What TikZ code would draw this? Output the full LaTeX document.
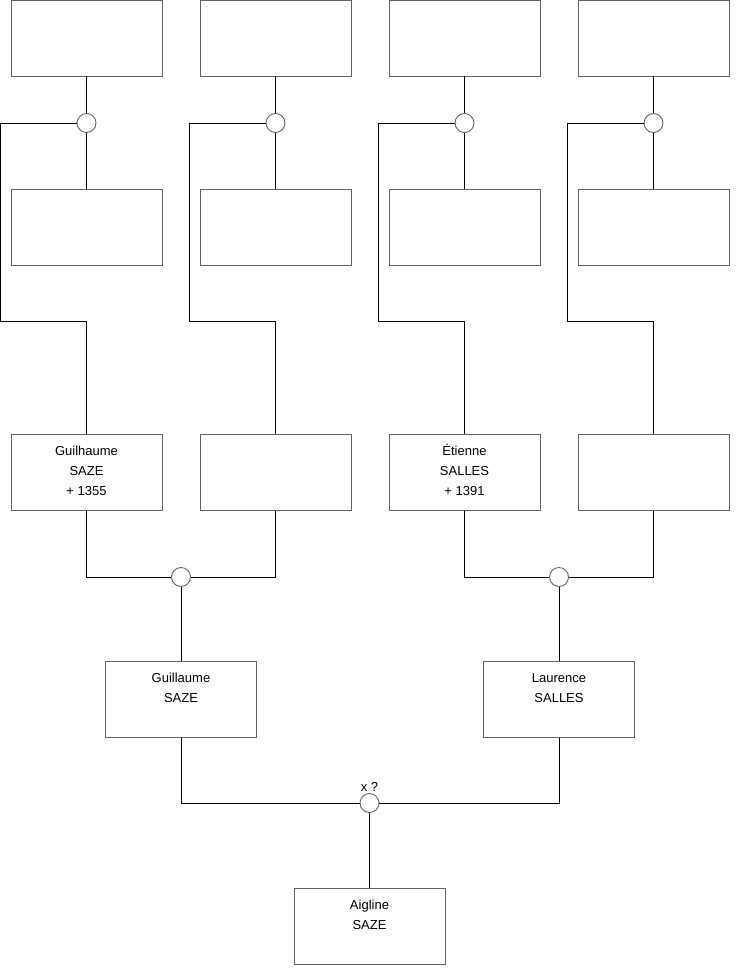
\documentclass[tikz,border=0pt]{standalone}
\usepackage{fontspec}
\setmainfont{Liberation Sans}
\definecolor{boxgray}{RGB}{100,100,100}
% same height for every first line
\newcommand{\firstln}[1]{\vphantom{É}#1}
\begin{document}
\begin{tikzpicture}[x=1pt,y=-1pt,
  box/.style={draw=boxgray,line width=0.9pt,minimum width=151pt,minimum height=76pt,inner sep=0pt},
  ring/.style={circle,draw=boxgray,line width=0.9pt,fill=white,minimum size=19pt,inner sep=0pt},
  link/.style={line width=0.9pt},
  who/.style={anchor=north,inner sep=0pt,yshift=-10pt,align=center,font=\fontsize{13}{20}\selectfont}]
  \useasboundingbox (0,0) rectangle (740,975);
  % upper generations
  \foreach \i/\x in {1/86.5,2/275.5,3/464.5,4/653.5} {
    \node[box] (top\i) at (\x,38) {};
    \node[box] (mid\i) at (\x,227) {};
    \node[ring] (c\i) at (\x,123) {};
    \draw[link] (top\i) -- (c\i) -- (mid\i);
  }
  \node[box,label={[who]north:\firstln{Guilhaume}\\SAZE\\+ 1355}] (g1) at (86.5,472.5) {};
  \node[box] (g2) at (275.5,472.5) {};
  \node[box,label={[who]north:\firstln{Étienne}\\SALLES\\+ 1391}] (g3) at (464.5,472.5) {};
  \node[box] (g4) at (653.5,472.5) {};
  \foreach \i in {1,...,4}
    \draw[link] (c\i.west) -| ++(-76,198) -| (g\i.north);
  % parents
  \node[ring] (d1) at (181,577) {};
  \node[ring] (d2) at (559,577) {};
  \draw[link] (g1.south) |- (d1.west);
  \draw[link] (g2.south) |- (d1.east);
  \draw[link] (g3.south) |- (d2.west);
  \draw[link] (g4.south) |- (d2.east);
  \node[box,label={[who]north:\firstln{Guillaume}\\SAZE}] (guillaume) at (181,699.5) {};
  \node[box,label={[who]north:\firstln{Laurence}\\SALLES}] (laurence) at (559,699.5) {};
  \draw[link] (d1) -- (guillaume);
  \draw[link] (d2) -- (laurence);
  % union
  \node[ring,label={[inner sep=1.5pt,font=\fontsize{13}{20}\selectfont]above:x ?}] (u) at (369.5,803) {};
  \draw[link] (guillaume.south) |- (u.west);
  \draw[link] (laurence.south) |- (u.east);
  \node[box,label={[who]north:\firstln{Aigline}\\SAZE}] (aigline) at (369.5,926) {};
  \draw[link] (u) -- (aigline);
\end{tikzpicture}
\end{document}
